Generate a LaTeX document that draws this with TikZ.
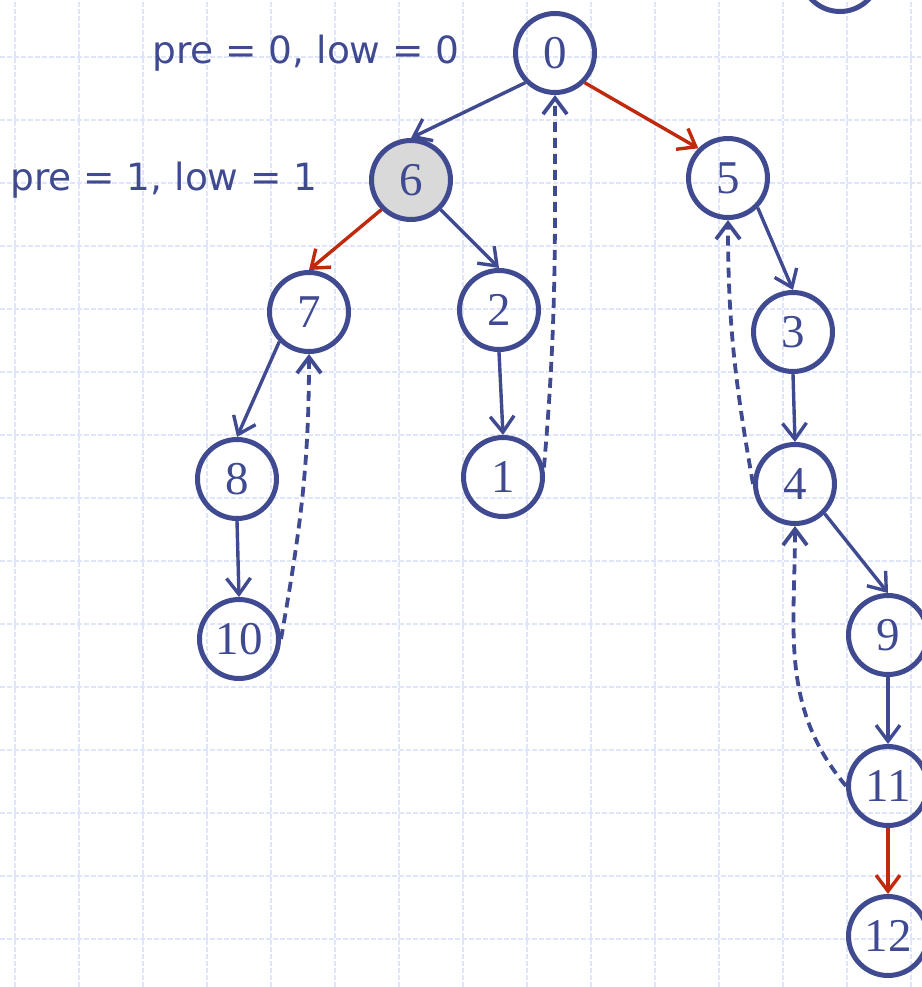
\documentclass[tikz,border=0pt]{standalone}
\usepackage{fontspec}
\usepackage{xcolor}
\usepackage{tikz}
\usetikzlibrary{arrows.meta, positioning}
\newfontfamily\notefont{DejaVu Sans}
\newfontfamily\keyfont{Liberation Serif}
\definecolor{treeBlue}  {HTML}{404A91}
\definecolor{treeRed}   {HTML}{C0290B}
\definecolor{gridTint}  {HTML}{DFE5FA}
\definecolor{visitFill} {HTML}{D9D9D9}

\begin{document}
\begin{tikzpicture}[
    x=1pt, y=1pt,
    vtx/.style={circle, draw=treeBlue, line width=5pt, minimum size=79pt,
                inner sep=0pt, text=treeBlue, font=\keyfont\fontsize{47}{47}\selectfont},
    cur/.style={vtx, fill=visitFill},
    note/.style={inner sep=0pt, text=treeBlue, font=\notefont\fontsize{37.5}{37.5}\selectfont},
    arr/.style={-{Straight Barb[length=16pt, width=24pt]}, draw=treeBlue, line width=3.4pt},
    hot/.style={arr, draw=treeRed},
    back/.style={arr, line width=3.8pt, dash pattern=on 10pt off 6pt},
    gridline/.style={draw=gridTint, line width=1.3pt, dash pattern=on 5pt off 2pt},
  ]
    \useasboundingbox (0,0) rectangle (921,-987);
    \begin{scope}[shift={(15,-57)}]
      \draw[gridline, xstep=64, ystep=63] (-15,57) grid (906,-930);
    \end{scope}

    \node[vtx] (v0) at (555,-53) {0};
    \node[cur] (v6) at (411,-180) {6};
    \node[vtx] (v5) at (728,-178) {5};
    \node[vtx] (v7) at (309,-312) {7};
    \node[vtx] (v2) at (499,-310) {2};
    \node[vtx] (v3) at (793,-332) {3};
    \node[vtx] (v8) at (237,-479) {8};
    \node[vtx] (v1) at (503,-477) {1};
    \node[vtx] (v4) at (795,-484) {4};
    \node[vtx] (v10) at (239,-639) {10};
    \node[vtx] (v9) at (888,-635) {9};
    \node[vtx] (v11) at (888,-786) {11};
    \node[vtx] (v12) at (888,-936) {12};
    \node[vtx] (vtop) at (840,28) {};

    \node[note, left=53pt of v0] (pre0) {pre = 0, low = 0};
    \node[note, left=51pt of v6] (pre6) {pre = 1, low = 1};

    \draw[arr] (v0.south west) -- (v6.north);
    \draw[hot] (v0.south east) -- (v5.north west);
    \draw[hot] (v6.south west) -- (v7.north);
    \draw[arr] (v6.south east) -- (v2.north);
    \draw[arr] (v7.south west) -- (v8.north);
    \draw[arr] (v8.south) -- (v10.north);
    \draw[arr] (v2.south) -- (v1.north);
    \draw[arr] (v5.south east) -- (v3.north);
    \draw[arr] (v3.south) -- (v4.north);
    \draw[arr] (v4.south east) -- (v9.north);
    \draw[arr] (v9.south) -- (v11.north);
    \draw[hot] (v11.south) -- (v12.north);
    \draw[back] (v10.east) to[out=80, in=-90] (v7.south);
    \draw[back] (v1.13) to[out=85, in=-90] (v0.south);
    \draw[back] (v4.west) to[out=100, in=-90] (v5.south);
    \draw[back] (v11.west) to[out=130, in=-90] (v4.south);
  \end{tikzpicture}
\end{document}
